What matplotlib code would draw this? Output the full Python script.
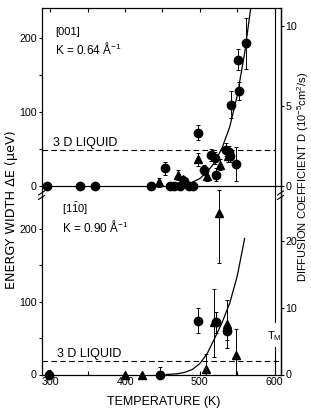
import matplotlib
matplotlib.use('Agg')
import matplotlib.pyplot as plt
from matplotlib.lines import Line2D

plt.rcParams['font.family'] = ['Liberation Sans', 'DejaVu Sans']
plt.rcParams['mathtext.default'] = 'regular'

# ---------------- data ----------------
# Top panel: [001], K = 0.64 A^-1
top_circ_T = [295, 340, 360, 434, 453, 460, 466, 473, 479, 485, 491, 497, 506, 515, 520, 521, 535, 539, 541, 542, 548, 551, 553, 562]
top_circ_dE = [0, 0, 0, 0, 24, 0, 0, 0, 6, 0, 0, 72, 22, 42, 38, 15, 49, 46, 41, 110, 30, 171, 129, 193]
top_circ_err = [4, 4, 0, 5, 9, 0, 0, 0, 5, 0, 0, 10, 7, 8, 8, 9, 9, 8, 8, 18, 23, 14, 12, 35]

top_tri_T = [445, 471, 478, 497, 509, 527, 538]
top_tri_dE = [5, 15, 9, 36, 13, 29, 40]
top_tri_err = [6, 7, 5, 9, 7, 7, 7]

top_fit_T = [470, 480, 490, 500, 510, 520, 530, 540, 550, 560, 570]
top_fit_dE = [0, 2, 5, 10, 19, 32, 52, 80, 122, 180, 255]

top_liquid = 48
top_D_scale = 21.6   # ueV per 1e-5 cm^2/s

# Bottom panel: [1-10], K = 0.90 A^-1
bot_circ_T = [298, 446, 497, 522, 537]
bot_circ_dE = [0, 0, 74, 72, 60]
bot_circ_lo = [0, 0, 17, 15, 13]
bot_circ_hi = [6, 10, 17, 14, 9]

bot_tri_T = [400, 423, 508, 519, 526, 536, 548]
bot_tri_dE = [0, 0, 7, 72, 222, 70, 27]
bot_tri_lo = [0, 0, 7, 48, 69, 34, 27]
bot_tri_hi = [0, 0, 21, 46, 31, 33, 36]

bot_fit_T = [455, 470, 480, 490, 500, 510, 520, 530, 540, 550, 560]
bot_fit_dE = [0, 1, 3, 7, 15, 29, 50, 72, 98, 135, 187]

bot_liquid = 18
bot_D_scale = 9.15

T_melt = 600
x_ticks = [300, 400, 500, 600]

# ---------------- figure ----------------
W, H = 311, 408
fig = plt.figure(figsize=(W / 100, H / 100), dpi=100)
L, R = 41.5, 280.5


def box(top, bot):
    return [L / W, 1 - bot / H, (R - L) / W, (bot - top) / H]


ax1 = fig.add_axes(box(8, 197))
ax2 = fig.add_axes(box(197, 374.5))

lw = 0.9
fs_tick = 7.7
fs_text = 8.5

for ax in (ax1, ax2):
    ax.set_xlim(288, 608)
    for s in ax.spines.values():
        s.set_linewidth(lw)

ax1.set_ylim(-15, 241)
ax2.set_ylim(0, 244)
ax1.spines['bottom'].set_visible(False)
ax2.spines['top'].set_visible(False)

# x ticks
ax1.set_xticks(x_ticks)
ax1.set_xticks([350, 450, 550], minor=True)
ax1.tick_params(axis='x', which='both', bottom=False, top=True, labelbottom=False,
                direction='in', length=3, width=0.8)
ax2.set_xticks(x_ticks)
ax2.set_xticks([350, 450, 550], minor=True)
ax2.tick_params(axis='x', which='both', bottom=True, top=False, direction='in',
                length=3, width=0.8, labelsize=fs_tick, pad=2)

for ax in (ax1, ax2):
    ax.set_yticks([0, 100, 200])
    ax.set_yticks([50, 150], minor=True)
    ax.tick_params(axis='y', which='both', left=True, right=False, direction='out',
                   length=2.5, width=0.8, labelsize=fs_tick, pad=1)

# right axes
ax1r = ax1.twinx()
ax1r.set_ylim(ax1.get_ylim()[0] / top_D_scale, ax1.get_ylim()[1] / top_D_scale)
ax1r.set_yticks([0, 5, 10])
ax2r = ax2.twinx()
ax2r.set_ylim(0, ax2.get_ylim()[1] / bot_D_scale)
ax2r.set_yticks([0, 10, 20])
for ax in (ax1r, ax2r):
    for k, s in ax.spines.items():
        s.set_visible(k == 'right')
        s.set_linewidth(lw)
    ax.tick_params(axis='y', direction='out', length=2.5, width=0.8,
                   labelsize=fs_tick, pad=1)

# zero line in top panel
ax1.axhline(0, color='k', lw=lw)

# T_M line
ax1.axvline(T_melt, color='k', lw=0.8)
ax2.plot([T_melt, T_melt], [72, 244], color='k', lw=0.8)
ax2.plot([T_melt, T_melt], [0, 38], color='k', lw=0.8)
ax2.text(T_melt, 53, 'T$_M$', ha='center', va='center', fontsize=8)

# liquid lines
ax1.plot([288, T_melt], [top_liquid, top_liquid], ls=(0, (5, 3)), color='k', lw=0.8)
ax2.plot([288, 608], [bot_liquid, bot_liquid], ls=(0, (5, 3)), color='k', lw=0.8)
ax1.text(303, top_liquid + 2, '3 D LIQUID', fontsize=9, va='bottom', ha='left')
ax2.text(308.5, bot_liquid + 2, '3 D LIQUID', fontsize=9, va='bottom', ha='left')

# labels inside panels
ax1.text(306, 208, '[001]', fontsize=8, va='center', ha='left')
ax1.text(306, 185, 'K = 0.64 Å$^{-1}$', fontsize=fs_text, va='center', ha='left')
ax2.text(316, 227, '[1$\\bar{1}$0]', fontsize=8, va='center', ha='left')
ax2.text(316, 203, 'K = 0.90 Å$^{-1}$', fontsize=fs_text, va='center', ha='left')

# data
ekw = dict(fmt='none', ecolor='k', elinewidth=0.7, capsize=1.5, capthick=0.7)
ms = 6
ax1.errorbar(top_circ_T, top_circ_dE, yerr=top_circ_err, **ekw)
ax1.errorbar(top_tri_T, top_tri_dE, yerr=top_tri_err, **ekw)
ax1.plot(top_circ_T, top_circ_dE, 'o', color='k', ms=ms, clip_on=False)
ax1.plot(top_tri_T, top_tri_dE, '^', color='k', ms=ms, clip_on=False)
ax1.plot(top_fit_T, top_fit_dE, '-', color='k', lw=0.9)

ax2.errorbar(bot_circ_T, bot_circ_dE, yerr=[bot_circ_lo, bot_circ_hi], **ekw)
eb = ax2.errorbar(bot_tri_T, bot_tri_dE, yerr=[bot_tri_lo, bot_tri_hi], **ekw)
for art in eb.lines[1] + eb.lines[2]:
    art.set_clip_on(False)
ax2.plot(bot_circ_T, bot_circ_dE, 'o', color='k', ms=ms, clip_on=False)
ax2.plot(bot_tri_T, bot_tri_dE, '^', color='k', ms=ms, clip_on=False)
ax2.plot(bot_fit_T, bot_fit_dE, '-', color='k', lw=0.9)

# axis labels
fig.text(12 / W, 1 - 210 / H, 'ENERGY WIDTH ΔE (μeV)', rotation=90,
         ha='center', va='center', fontsize=9.2, family='DejaVu Sans')
fig.text(303.5 / W, 1 - 177 / H, 'DIFFUSION COEFFICIENT D (10$^{-5}$cm$^{2}$/s)', rotation=90,
         ha='center', va='center', fontsize=8)
fig.text(163.5 / W, 1 - 402 / H, 'TEMPERATURE (K)', ha='center', va='center', fontsize=9)

# break marks
for x in (L, R):
    for yb in (193, 197.5):
        fig.add_artist(Line2D([(x - 3) / W, (x + 3) / W], [1 - (yb + 2) / H, 1 - (yb - 2) / H],
                              transform=fig.transFigure, color='k', lw=0.8))

fig.savefig('out.png', dpi=100)
